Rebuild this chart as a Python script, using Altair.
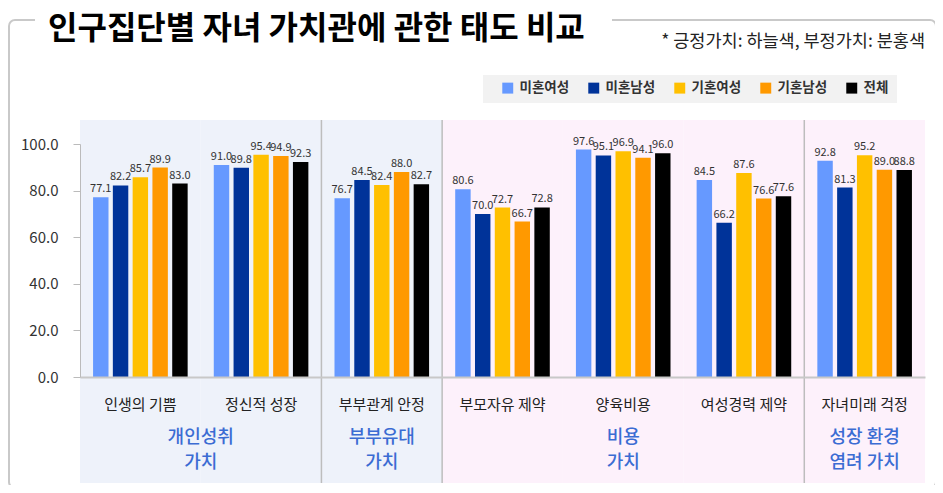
import altair as alt
import pandas as pd

FONT = "Noto Sans CJK KR"

categories = ["인생의 기쁨", "정신적 성장", "부부관계 안정", "부모자유 제약",
              "양육비용", "여성경력 제약", "자녀미래 걱정"]
tone = ["긍정", "긍정", "긍정", "부정", "부정", "부정", "부정"]

series = ["미혼여성", "미혼남성", "기혼여성", "기혼남성", "전체"]
series_colors = ["#6699ff", "#003399", "#ffc000", "#ff9900", "#000000"]

unmarried_f = [77.1, 91.0, 76.7, 80.6, 97.6, 84.5, 92.8]
unmarried_m = [82.2, 89.8, 84.5, 70.0, 95.1, 66.2, 81.3]
married_f = [85.7, 95.4, 82.4, 72.7, 96.9, 87.6, 95.2]
married_m = [89.9, 94.9, 88.0, 66.7, 94.1, 76.6, 89.0]
total = [83.0, 92.3, 82.7, 72.8, 96.0, 77.6, 88.8]

# group captions and the category each one is anchored to
group_labels = ["개인성취\n가치", "부부유대\n가치", "비용\n가치", "성장 환경\n염려 가치"]
group_anchor = ["정신적 성장", "부부관계 안정", "양육비용", "자녀미래 걱정"]
group_band = [0.0, 0.5, 0.5, 0.5]
dividers = ["부부관계 안정", "부모자유 제약", "자녀미래 걱정"]

title = "인구집단별 자녀 가치관에 관한 태도 비교"
note = "* 긍정가치: 하늘색, 부정가치: 분홍색"

W, H = 845, 233

rows = []
for s, vals in zip(series, [unmarried_f, unmarried_m, married_f, married_m, total]):
    for c, v in zip(categories, vals):
        rows.append({"cat": c, "series": s, "value": v})
bars_df = pd.DataFrame(rows)
bg_df = pd.DataFrame({"cat": categories, "tone": tone})
grp_df = pd.DataFrame({"cat": group_anchor, "label": group_labels, "band": group_band})
div_df = pd.DataFrame({"cat": dividers})

xscale = alt.Scale(domain=categories, paddingInner=0, paddingOuter=0)
x_axis = alt.Axis(title=None, labelAngle=0, labelFont=FONT, labelFontSize=15,
                  labelColor="#222", labelPadding=20, ticks=False,
                  domainColor="#c8c8c8", domainWidth=2, zindex=1)
y_axis = alt.Axis(title=None, values=[0, 20, 40, 60, 80, 100], format=".1f",
                  labelFont=FONT, labelFontSize=15, labelColor="#333",
                  labelPadding=15, tickSize=7, tickColor="#bbbbbb",
                  domainColor="#bbbbbb", grid=False, zindex=1)

one = pd.DataFrame({"a": [0]})

frame = alt.Chart(one).mark_rect(
    fill="white", stroke="#c9c9c9", strokeWidth=2, cornerRadius=6
).encode(x=alt.value(-71), x2=alt.value(856), y=alt.value(-124), y2=alt.value(344))

title_bg = alt.Chart(one).mark_rect(fill="white").encode(
    x=alt.value(-45), x2=alt.value(532), y=alt.value(-136), y2=alt.value(-112))

title_txt = alt.Chart(pd.DataFrame({"t": [title]})).mark_text(
    font=FONT, fontSize=32, fontWeight="bold", color="#000", align="left",
    baseline="alphabetic"
).encode(x=alt.value(-32), y=alt.value(-105), text="t:N")

note_txt = alt.Chart(pd.DataFrame({"t": [note]})).mark_text(
    font=FONT, fontSize=17.5, color="#222", align="right", baseline="middle"
).encode(x=alt.value(845), y=alt.value(-102), text="t:N")

legend_bg = alt.Chart(one).mark_rect(fill="#f2f2f2").encode(
    x=alt.value(403), x2=alt.value(817), y=alt.value(-69), y2=alt.value(-41))

bg = alt.Chart(bg_df).mark_rect().encode(
    x=alt.X("cat:N", scale=xscale, axis=x_axis, sort=categories),
    y=alt.value(-24), y2=alt.value(339),
    fill=alt.Fill("tone:N", scale=alt.Scale(domain=["긍정", "부정"],
                                            range=["#eef2fa", "#fdf1fb"]),
                  legend=None),
)

div = alt.Chart(div_df).mark_rule(color="#bdbdbd", strokeWidth=1.5).encode(
    x=alt.X("cat:N", scale=xscale, bandPosition=0),
    y=alt.value(-24), y2=alt.value(339),
)

bars = alt.Chart(bars_df).mark_bar().encode(
    x=alt.X("cat:N", scale=xscale, sort=categories),
    xOffset=alt.XOffset("series:N", sort=series,
                        scale=alt.Scale(domain=series, paddingInner=0.22, paddingOuter=0.66)),
    y=alt.Y("value:Q", scale=alt.Scale(domain=[0, 100]), axis=y_axis),
    color=alt.Color("series:N", sort=series,
                    scale=alt.Scale(domain=series, range=series_colors),
                    legend=alt.Legend(orient="none", direction="horizontal",
                                      legendX=421, legendY=-63, title=None,
                                      symbolType="square", symbolSize=120,
                                      symbolStrokeWidth=0, labelFont=FONT,
                                      labelFontSize=13.5, labelFontWeight="bold",
                                      labelColor="#333", labelOffset=5,
                                      columnPadding=17, padding=0)),
)

labels = alt.Chart(bars_df).mark_text(
    font=FONT, fontSize=11, color="#333", baseline="bottom", dy=-3
).encode(
    x=alt.X("cat:N", scale=xscale, sort=categories),
    xOffset=alt.XOffset("series:N", sort=series),
    y=alt.Y("value:Q"),
    text=alt.Text("value:Q", format=".1f"),
)

grp0 = alt.Chart(grp_df[grp_df.band == 0.0]).mark_text(
    font=FONT, fontSize=18, fontWeight=500, color="#3b6cd3", lineBreak="\n",
    lineHeight=25, baseline="top"
).encode(x=alt.X("cat:N", scale=xscale, bandPosition=0),
         y=alt.value(285), text="label:N")

grp1 = alt.Chart(grp_df[grp_df.band == 0.5]).mark_text(
    font=FONT, fontSize=18, fontWeight=500, color="#3b6cd3", lineBreak="\n",
    lineHeight=25, baseline="top"
).encode(x=alt.X("cat:N", scale=xscale, bandPosition=0.5),
         y=alt.value(285), text="label:N")

chart = alt.layer(
    frame, title_bg, title_txt, note_txt, legend_bg, bg, div, bars, labels, grp0, grp1
).properties(
    width=W, height=H,
    autosize=alt.AutoSizeParams(type="none"),
    padding={"left": 72, "top": 136, "right": 10, "bottom": 108},
    background="white",
).configure_view(stroke=None)

chart.save("out.html", embed_options={"renderer": "svg", "actions": False})
